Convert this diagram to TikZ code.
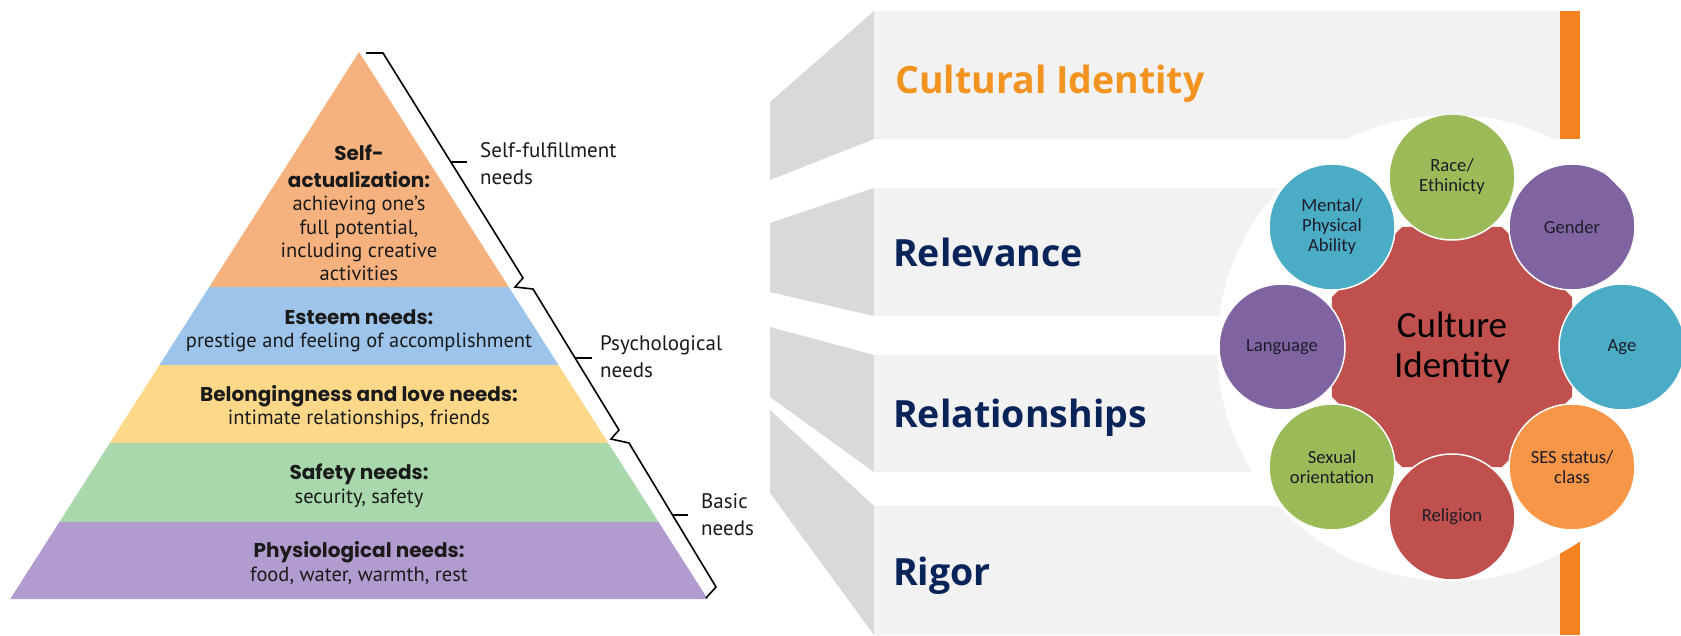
\documentclass[tikz,border=0pt]{standalone}
\usepackage{fontspec}
\newfontfamily\pyrfont{PT Sans}
\newfontfamily\pyrhead{Poppins}
\newfontfamily\panelfont{Open Sans}
\newfontfamily\wheelfont{Carlito}

% pyramid layers
\definecolor{pyrOrange}{RGB}{246,178,126}
\definecolor{pyrBlue}{RGB}{157,196,234}
\definecolor{pyrYellow}{RGB}{253,216,136}
\definecolor{pyrGreen}{RGB}{168,216,172}
\definecolor{pyrPurple}{RGB}{177,155,207}
\definecolor{inkDark}{RGB}{26,26,26}
% step panels
\definecolor{panelLight}{RGB}{242,242,242}
\definecolor{panelSide}{RGB}{217,217,217}
\definecolor{barOrange}{RGB}{244,130,32}
\definecolor{titleOrange}{RGB}{243,147,32}
\definecolor{titleNavy}{RGB}{10,36,90}
% identity wheel
\definecolor{wGreen}{RGB}{155,187,89}
\definecolor{wPurple}{RGB}{128,100,162}
\definecolor{wTeal}{RGB}{75,172,198}
\definecolor{wOrange}{RGB}{247,150,70}
\definecolor{wRed}{RGB}{192,80,77}
\definecolor{wInk}{RGB}{30,28,40}

\begin{document}
\begin{tikzpicture}[x=1pt,y=-1pt,
  headline/.style={anchor=base,inner sep=0pt,text=inkDark,
    font=\pyrhead\bfseries\fontsize{20}{22}\selectfont},
  bodyline/.style={anchor=base,inner sep=0pt,text=inkDark,
    font=\pyrfont\fontsize{20.5}{23}\selectfont},
  sidelabel/.style={anchor=base west,inner sep=0pt,text=inkDark,
    font=\pyrfont\fontsize{21}{26}\selectfont},
  brace/.style={draw=black,line width=1.6pt,line join=miter},
  steptitle/.style={anchor=base west,inner sep=0pt,text=titleNavy,
    font=\panelfont\bfseries\fontsize{37.5}{40}\selectfont},
  facet/.style={circle,minimum size=126pt,inner sep=0pt,draw=white,
    line width=1.5pt,align=center,text=wInk,
    font=\wheelfont\fontsize{18.6}{21}\selectfont}]

\useasboundingbox (0,0) rectangle (1681,635);
\fill[white] (0,0) rectangle (1681,635);

% ---------------- hierarchy pyramid ----------------
\fill[pyrOrange] (359,52) -- (508.8,287) -- (209.2,287) -- cycle;
\fill[pyrBlue]   (209.2,287) -- (508.8,287) -- (558.5,365) -- (159.5,365) -- cycle;
\fill[pyrYellow] (159.5,365) -- (558.5,365) -- (608.2,443) -- (109.8,443) -- cycle;
\fill[pyrGreen]  (109.8,443) -- (608.2,443) -- (658.6,522) -- (59.4,522) -- cycle;
\fill[pyrPurple] (59.4,522) -- (658.6,522) -- (707.7,599) -- (10.3,599) -- cycle;

\node[headline] (sa1) at (359,160) {Self-};
\node[headline] (sa2) at (359,187) {actualization:};
\node[bodyline] (sa3) at (359,210) {achieving one’s};
\node[bodyline] (sa4) at (359,234) {full potential,};
\node[bodyline] (sa5) at (359,257) {including creative};
\node[bodyline] (sa6) at (359,280) {activities};

\node[headline] (es1) at (359,324) {Esteem needs:};
\node[bodyline] (es2) at (359,347) {prestige and feeling of accomplishment};

\node[headline] (bl1) at (359,401) {Belongingness and love needs:};
\node[bodyline] (bl2) at (359,424) {intimate relationships, friends};

\node[headline] (sf1) at (359,479) {Safety needs:};
\node[bodyline] (sf2) at (359,503) {security, safety};

\node[headline] (ph1) at (359,557) {Physiological needs:};
\node[bodyline] (ph2) at (359,581) {food, water, warmth, rest};

% grouping braces along the right flank
\draw[brace] (366,53) -- (383,53) -- (523,278) -- (515,287) -- (533,289)
  -- (619,430) -- (611,439) -- (629,443) -- (716,587) -- (706,598);
\draw[brace] (451,162) -- (467,162);
\draw[brace] (575,358) -- (592,358);
\draw[brace] (672,515) -- (688,515);

\node[sidelabel] (g1a) at (480,157) {Self-fulfillment};
\node[sidelabel] (g1b) at (480,184) {needs};
\node[sidelabel] (g2a) at (600,350) {Psychological};
\node[sidelabel] (g2b) at (600,377) {needs};
\node[sidelabel] (g3a) at (701,508) {Basic};
\node[sidelabel] (g3b) at (701,535) {needs};

% ---------------- step panels ----------------
\fill[panelSide] (770,102) -- (874,11) -- (874,139) -- (770,180) -- cycle;
\fill[panelLight] (874,11) rectangle (1560,139);
\fill[panelSide] (770,223) -- (874,188) -- (874,316) -- (770,292) -- cycle;
\fill[panelLight] (874,188) rectangle (1560,316);
\fill[panelSide] (770,327) -- (874,355) -- (874,472) -- (770,397) -- cycle;
\fill[panelLight] (874,355) rectangle (1560,472);
\fill[panelSide] (770,410) -- (874,506) -- (874,635) -- (770,493) -- cycle;
\fill[panelLight] (874,506) rectangle (1560,635);
\fill[barOrange] (1560,11) rectangle (1580,139);
\fill[barOrange] (1560,506) rectangle (1580,635);

\node[steptitle,text=titleOrange] (t1) at (895,93) {Cultural Identity};
\node[steptitle] (t2) at (893,266) {Relevance};
\node[steptitle] (t3) at (893,427) {Relationships};
\node[steptitle] (t4) at (893,585) {Rigor};

% ---------------- identity wheel ----------------
\fill[white] (1450,348) circle (233pt);
\begin{scope}
  \clip (1450,348) circle (233pt);
  \fill[wRed] (1572.1,297.25) -- (1501.75,226.9) -- (1402.25,226.9)
    -- (1331.9,297.25) -- (1331.9,396.75) -- (1402.25,467.1)
    -- (1501.75,467.1) -- (1572.1,396.75) -- cycle;
  \node[facet,fill=wGreen]  (race)   at (1452,177) {Race/\\[-1pt]Ethinicty};
  \node[facet,fill=wPurple] (gender) at (1572,227) {Gender};
  \node[facet,fill=wTeal]   (age)    at (1622,347) {Age};
  \node[facet,fill=wOrange] (ses)    at (1572,467) {SES status/\\[-1pt]class};
  \node[facet,fill=wRed]    (relig)  at (1452,517) {Religion};
  \node[facet,fill=wGreen]  (sexual) at (1332,467) {Sexual\\[-1pt]orientation};
  \node[facet,fill=wPurple] (lang)   at (1282,347) {Language};
  \node[facet,fill=wTeal]   (mental) at (1332,227) {Mental/\\[-1pt]Physical\\[-1pt]Ability};
  \node[align=center,inner sep=0pt,text=black,
    font=\wheelfont\fontsize{37}{40}\selectfont] (core) at (1452,348) {Culture\\Identity};
\end{scope}

\end{tikzpicture}
\end{document}
